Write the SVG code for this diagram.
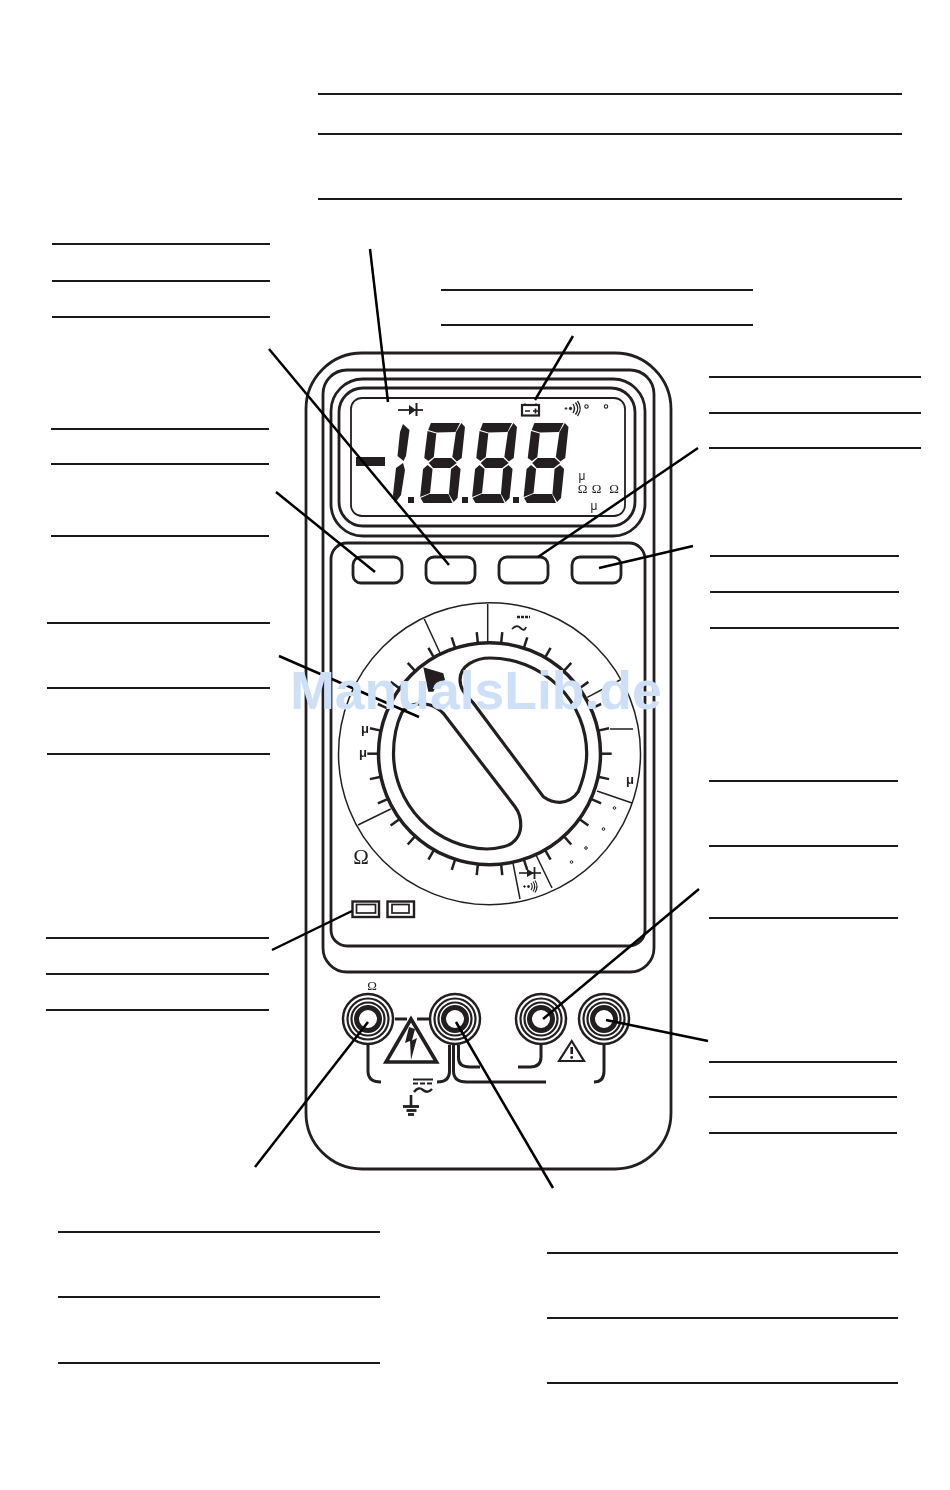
<svg xmlns="http://www.w3.org/2000/svg" xmlns:xlink="http://www.w3.org/1999/xlink" width="950" height="1490" viewBox="0 0 950 1490">
<style>
.rule{stroke:#1a1a1a;stroke-width:2.200;fill:none}
.o{fill:none;stroke:#231f20;stroke-width:2.800}
.t{fill:none;stroke:#231f20;stroke-width:1.500}
.k{fill:none;stroke:#231f20;stroke-width:3.200;stroke-linecap:round}
.lead{stroke:#000;stroke-width:2.500;fill:none}
.sym{font-family:"Liberation Serif",serif;fill:#231f20;filter:url(#gray)}
.mu{font-family:"Liberation Sans",sans-serif;fill:#231f20;filter:url(#gray)}
.seg{fill:#231f20}
</style>
<defs>
<filter id="gray" x="-20%" y="-20%" width="140%" height="140%"><feOffset dx="0" dy="0"/></filter>
<g id="digit">
<polygon class="seg" points="3,-80 32,-80 28.500,-71 9.500,-70.500 1,-73"/>
<polygon class="seg" points="0.500,-72 9.500,-69.500 9.500,-46 4.500,-42 0,-45"/>
<polygon class="seg" points="33.500,-80 37.500,-76 37.500,-45 33,-41.500 28,-46 29,-71"/>
<polygon class="seg" points="5,-40 10,-45 27,-45 33,-40 27,-35 10,-35"/>
<polygon class="seg" points="4,-38 9.500,-34 9.500,-10 0,-6 0,-34"/>
<polygon class="seg" points="33,-38 37.500,-34 37.500,-5 34,-1 28.500,-9 28,-34"/>
<polygon class="seg" points="0.500,-5 9,-9 28,-9 33,0 4,0"/>
</g>
<line id="tick" x1="489.500" y1="642.700" x2="489.500" y2="631.500" stroke="#231f20" stroke-width="2.500"/>
<g id="term">
<circle cx="0" cy="0" r="25" fill="#fff" stroke="#231f20" stroke-width="2.500"/>
<circle cx="0" cy="0" r="20.500" fill="none" stroke="#231f20" stroke-width="2.200"/>
<circle cx="0" cy="0" r="16.500" fill="none" stroke="#231f20" stroke-width="2.200"/>
<circle cx="0" cy="0" r="11.500" fill="#fff" stroke="#231f20" stroke-width="5"/>
</g>
</defs>
<g id="label-rules">
<path class="rule" d="M318 94H902M318 134H902M318 199H902"/>
<path class="rule" d="M52 244H270M52 281H270M52 317H270"/>
<path class="rule" d="M441 290H753M441 325H753"/>
<path class="rule" d="M709 377H921M709 413H921M709 448H921"/>
<path class="rule" d="M51 429H269M51 464H269M51 536H269"/>
<path class="rule" d="M710 556H899M710 592H899M710 628H899"/>
<path class="rule" d="M47 623H270M47 688H270M47 754H270"/>
<path class="rule" d="M709 781H898M709 846H898M709 918H898"/>
<path class="rule" d="M46 938H269M46 974H269M46 1010H269"/>
<path class="rule" d="M709 1062H897M709 1097H897M709 1133H897"/>
<path class="rule" d="M58 1232H380M58 1297H380M58 1363H380"/>
<path class="rule" d="M547 1253H898M547 1318H898M547 1383H898"/>
</g>
<g id="body">
<rect class="o" x="306" y="353" width="365" height="816" rx="56"/>
<rect class="o" x="323" y="370" width="331" height="602" rx="24"/>
<rect class="o" x="331" y="379" width="314" height="157" rx="32"/>
<rect class="o" x="339" y="388" width="296" height="138" rx="24"/>
<rect class="o" x="331" y="543" width="314" height="403" rx="16"/>
</g>
<g id="lcd">
<rect x="351" y="398" width="274" height="118" rx="11" fill="none" stroke="#231f20" stroke-width="1.800"/>
<rect class="seg" x="356" y="457" width="29" height="9"/>
<polygon class="seg" points="403,424 409.500,430 406,456 403.500,461 397.500,456 400,432"/>
<polygon class="seg" points="403,463 405,470 401,495 395,503 393,495 396,468"/>
<use xlink:href="#digit" href="#digit" transform="translate(419.500,503) skewX(-6)"/>
<use xlink:href="#digit" href="#digit" transform="translate(471.500,503) skewX(-6)"/>
<use xlink:href="#digit" href="#digit" transform="translate(523,503) skewX(-6)"/>
<rect class="seg" x="408" y="497" width="6" height="6"/>
<rect class="seg" x="462" y="497" width="6" height="6"/>
<rect class="seg" x="513" y="497" width="6" height="6"/>
<g id="lcd-diode">
<path d="M398 410H423" stroke="#231f20" stroke-width="1.800"/>
<polygon class="seg" points="409,405 416,410 409,415"/>
<path d="M416.500 403V416" stroke="#231f20" stroke-width="2"/>
</g>
<g id="lcd-battery">
<rect x="522" y="405" width="17" height="10.500" fill="none" stroke="#231f20" stroke-width="2.200"/>
<path d="M525 403.500V405M536 403.500V405M525 411H530M533 411H538M535.500 408.500V413.500" stroke="#231f20" stroke-width="1.700"/>
</g>
<g id="lcd-sound" fill="none" stroke="#231f20">
<circle cx="566" cy="408.500" r=".8" fill="#231f20"/>
<circle cx="570.500" cy="408.500" r="1.200" fill="#231f20"/>
<path d="M573 404Q576 408.500 573 413M575.500 402.500Q580 408.500 575.500 414.500M577.500 401Q583 408.500 577.500 416" stroke-width="1.300"/>
</g>
<circle cx="586.500" cy="406.500" r="1.700" fill="none" stroke="#231f20" stroke-width="1.100"/>
<circle cx="606" cy="406.500" r="1.700" fill="none" stroke="#231f20" stroke-width="1.100"/>
<text class="mu" x="582" y="480" font-size="12" text-anchor="middle">μ</text>
<text class="sym" x="582.500" y="493" font-size="13" text-anchor="middle">Ω</text>
<text class="sym" x="596.500" y="493" font-size="13" text-anchor="middle">Ω</text>
<text class="sym" x="614" y="493" font-size="13" text-anchor="middle">Ω</text>
<text class="mu" x="594" y="510" font-size="12" text-anchor="middle">μ</text>
</g>
<g id="buttons">
<rect id="btn1" class="o" x="353" y="557" width="49" height="26" rx="8"/>
<rect id="btn2" class="o" x="426" y="557" width="49" height="26" rx="8"/>
<rect id="btn3" class="o" x="499" y="557" width="49" height="26" rx="8"/>
<rect id="btn4" class="o" x="572" y="557" width="49" height="26" rx="8"/>
</g>
<g id="dial">
<circle class="t" cx="489.500" cy="753.700" r="151"/>
<circle cx="489.500" cy="753.700" r="111" fill="none" stroke="#231f20" stroke-width="3.500"/>
<path class="t" d="M487.700 604V643M424.300 619L440 653M620 680L587.300 697.300M610 729H633M597 791L632 803M536 855L552 888M512.700 861.700L520 899M358 825L390.700 809"/>
<g id="ticks">
<use xlink:href="#tick" href="#tick" transform="rotate(6 489.500 753.700)"/>
<use xlink:href="#tick" href="#tick" transform="rotate(18 489.500 753.700)"/>
<use xlink:href="#tick" href="#tick" transform="rotate(30 489.500 753.700)"/>
<use xlink:href="#tick" href="#tick" transform="rotate(42 489.500 753.700)"/>
<use xlink:href="#tick" href="#tick" transform="rotate(54 489.500 753.700)"/>
<use xlink:href="#tick" href="#tick" transform="rotate(66 489.500 753.700)"/>
<use xlink:href="#tick" href="#tick" transform="rotate(78 489.500 753.700)"/>
<use xlink:href="#tick" href="#tick" transform="rotate(90 489.500 753.700)"/>
<use xlink:href="#tick" href="#tick" transform="rotate(102 489.500 753.700)"/>
<use xlink:href="#tick" href="#tick" transform="rotate(114 489.500 753.700)"/>
<use xlink:href="#tick" href="#tick" transform="rotate(126 489.500 753.700)"/>
<use xlink:href="#tick" href="#tick" transform="rotate(138 489.500 753.700)"/>
<use xlink:href="#tick" href="#tick" transform="rotate(150 489.500 753.700)"/>
<use xlink:href="#tick" href="#tick" transform="rotate(162 489.500 753.700)"/>
<use xlink:href="#tick" href="#tick" transform="rotate(174 489.500 753.700)"/>
<use xlink:href="#tick" href="#tick" transform="rotate(186 489.500 753.700)"/>
<use xlink:href="#tick" href="#tick" transform="rotate(198 489.500 753.700)"/>
<use xlink:href="#tick" href="#tick" transform="rotate(210 489.500 753.700)"/>
<use xlink:href="#tick" href="#tick" transform="rotate(222 489.500 753.700)"/>
<use xlink:href="#tick" href="#tick" transform="rotate(234 489.500 753.700)"/>
<use xlink:href="#tick" href="#tick" transform="rotate(246 489.500 753.700)"/>
<use xlink:href="#tick" href="#tick" transform="rotate(258 489.500 753.700)"/>
<use xlink:href="#tick" href="#tick" transform="rotate(270 489.500 753.700)"/>
<use xlink:href="#tick" href="#tick" transform="rotate(282 489.500 753.700)"/>
<use xlink:href="#tick" href="#tick" transform="rotate(294 489.500 753.700)"/>
<use xlink:href="#tick" href="#tick" transform="rotate(306 489.500 753.700)"/>
<use xlink:href="#tick" href="#tick" transform="rotate(318 489.500 753.700)"/>
<use xlink:href="#tick" href="#tick" transform="rotate(330 489.500 753.700)"/>
<use xlink:href="#tick" href="#tick" transform="rotate(342 489.500 753.700)"/>
<use xlink:href="#tick" href="#tick" transform="rotate(354 489.500 753.700)"/>
</g>
<path class="k" d="M430 705Q437 707 443.300 713.300L515 806.700C519 812 521 820 520.700 826.700C520 838 512 845 503.300 846.700C498 848 492 849 486.700 849A96 96 0 0 1 393.500 753.700C393.500 738 396 725 401.700 713C406 705 418 702 430 705Z"/>
<path class="k" d="M473.300 703L543.300 796.700C548 800 554 802.300 560 802.300C568 802 574 798 578.300 791.700C583 780 586.700 768 586.700 753.300A97 96 0 0 0 490 658C476 658 460 665 460 680C460 690 467 696 473.300 703Z"/>
<polygon class="seg" points="423.300,667.300 443.300,673.300 445,680 436.700,685 433.300,691.700 428.300,691.700"/>
<path d="M517 617H530" stroke="#231f20" stroke-width="2.400" stroke-dasharray="3 1"/>
<path d="M512 629Q516.500 624 520.500 628T526 627" fill="none" stroke="#231f20" stroke-width="1.800"/>
<text class="mu" x="365" y="733" font-size="13" font-weight="bold" text-anchor="middle">μ</text>
<text class="mu" x="363" y="757" font-size="13" font-weight="bold" text-anchor="middle">μ</text>
<text class="mu" x="630" y="784" font-size="13" font-weight="bold" text-anchor="middle">μ</text>
<text class="sym" x="361" y="864" font-size="21" text-anchor="middle">Ω</text>
<g fill="none" stroke="#231f20" stroke-width="1">
<circle cx="614.500" cy="808" r="1.300"/>
<circle cx="603.500" cy="829" r="1.300"/>
<circle cx="586" cy="848" r="1.300"/>
<circle cx="571.500" cy="862" r="1.300"/>
</g>
<g id="dial-diode">
<path d="M519 873H541" stroke="#231f20" stroke-width="1.600"/>
<polygon class="seg" points="527,869 534,873 527,877"/>
<path d="M534.500 867V879" stroke="#231f20" stroke-width="1.800"/>
</g>
<g id="dial-sound" fill="none" stroke="#231f20">
<circle cx="524.500" cy="886.500" r=".8" fill="#231f20"/>
<circle cx="528.500" cy="886.500" r="1" fill="#231f20"/>
<path d="M531 883Q533.500 886.500 531 890M533 881.500Q536.500 886.500 533 891.500M535 880.500Q539 886.500 535 892.500" stroke-width="1.100"/>
</g>
</g>
<g id="fuses" fill="none" stroke="#231f20">
<rect x="352.500" y="901.500" width="26.500" height="15.500" stroke-width="2.400"/>
<rect x="356.500" y="904.500" width="19" height="8.500" stroke-width="1.700"/>
<rect x="387.500" y="901.500" width="26.500" height="15.500" stroke-width="2.400"/>
<rect x="392" y="904.500" width="17" height="8.500" stroke-width="1.700"/>
</g>
<g id="jack-wiring" fill="none" stroke="#231f20" stroke-width="3">
<path d="M368 1045V1071Q368 1082 381 1082"/>
<path d="M449.500 1045V1071Q449.500 1082 437 1082"/>
<path d="M453.500 1045V1071Q453.500 1082 467 1082H546"/>
<path d="M458.500 1045V1058Q458.500 1067 470 1067H480"/>
<path d="M541 1045V1057Q541 1067 530 1067H518"/>
<path d="M604 1045V1071Q604 1082 594 1082"/>
<path d="M395 1019H407M417 1019H429"/>
</g>
<g id="jack1"><use xlink:href="#term" href="#term" transform="translate(368,1019)"/></g>
<g id="jack2"><use xlink:href="#term" href="#term" transform="translate(455,1019)"/></g>
<g id="jack3"><use xlink:href="#term" href="#term" transform="translate(541,1019)"/></g>
<g id="jack4"><use xlink:href="#term" href="#term" transform="translate(604,1019)"/></g>
<text class="sym" x="372" y="990" font-size="13" text-anchor="middle">Ω</text>
<g id="hv-warning">
<polygon points="411,1019 436.500,1062 386,1062" fill="#fff" stroke="#231f20" stroke-width="3.600"/>
<polygon class="seg" points="409,1027 405,1043 410,1041 411,1060 417,1038 412,1040.500 415,1029"/>
</g>
<g id="warning">
<polygon points="571.700,1041 584,1061 559,1061" fill="#fff" stroke="#231f20" stroke-width="2.200"/>
<path d="M571.700 1047V1054" stroke="#231f20" stroke-width="2.600"/>
<circle cx="571.700" cy="1057.500" r="1.400" fill="#231f20"/>
</g>
<g id="ground-ac" fill="none" stroke="#231f20">
<path d="M413 1079.500H433" stroke-width="2"/>
<path d="M413 1083.500H433" stroke-width="2" stroke-dasharray="5 2"/>
<path d="M414 1092Q418.500 1086 423 1090T432 1089" stroke-width="2.400"/>
<path d="M411 1095V1106" stroke-width="2.600"/>
<path d="M403 1106.500H419" stroke-width="2.800"/>
<path d="M406.500 1110.500H416.500" stroke-width="2.800"/>
<path d="M408 1114.500H414" stroke-width="2.800"/>
</g>
<g id="connectors">
<path class="lead" d="M370 249L388 402"/>
<path class="lead" d="M573 336L535 400"/>
<path class="lead" d="M269 349L449 565"/>
<path class="lead" d="M276 492L375 572"/>
<path class="lead" d="M698 448L538 557"/>
<path class="lead" d="M693 546L599 568"/>
<path class="lead" d="M279 656L419 717"/>
<path class="lead" d="M272 950L352 911"/>
<path class="lead" d="M699 889L543 1019"/>
<path class="lead" d="M708 1041L606 1020"/>
<path class="lead" d="M255 1167L368 1022"/>
<path class="lead" d="M553 1188L456 1022"/>
</g>
<text id="watermark" x="476" y="708.500" font-family="Liberation Sans, sans-serif" font-weight="bold" font-size="53.500" text-anchor="middle" fill="#cde0f8" filter="url(#gray)">ManualsLib.de</text>
</svg>
